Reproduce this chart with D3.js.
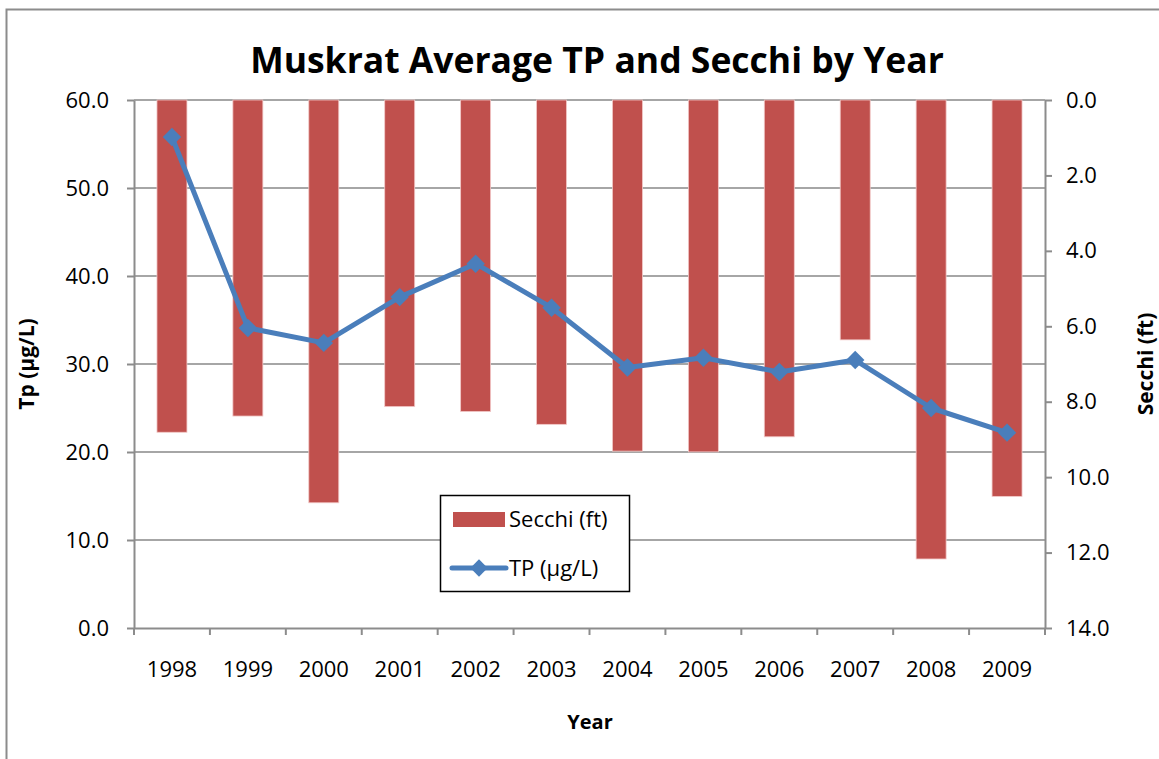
<!DOCTYPE html>
<html lang="en">
<head>
  <meta charset="UTF-8">
  <title>Muskrat Average TP and Secchi by Year</title>
  <script src="https://d3js.org/d3.v7.min.js"></script>
  <style>
    body {
      margin: 0;
      padding: 0;
      background: #fff;
      font-family: "Open Sans", "Liberation Sans", sans-serif;
    }
    .grid line { stroke: #a6a6a6; stroke-width: 2px; }
    .axis path, .axis line { stroke: #8c8c8c; stroke-width: 2px; }
    .axis text { font-size: 22px; fill: #000; font-family: "Open Sans", sans-serif; }
    .label { font-size: 20px; font-weight: bold; }
  </style>
</head>
<body>
  <svg id="chart" width="1159" height="759"></svg>

  <script>
    const years = ["1998", "1999", "2000", "2001", "2002", "2003", "2004", "2005", "2006", "2007", "2008", "2009"];
    const secchi = [8.81, 8.38, 10.68, 8.13, 8.26, 8.60, 9.31, 9.33, 8.93, 6.36, 12.17, 10.51];
    const tp = [55.8, 34.1, 32.4, 37.6, 41.4, 36.4, 29.6, 30.7, 29.1, 30.45, 25.0, 22.2];
    const tpTicks = [0, 10, 20, 30, 40, 50, 60];
    const secchiTicks = [0, 2, 4, 6, 8, 10, 12, 14];

    const margin = { top: 100, right: 114, bottom: 131, left: 134 };
    const width = 1159 - margin.left - margin.right;
    const height = 759 - margin.top - margin.bottom;

    const svg = d3.select("#chart");

    // outer chart border
    svg.append("rect")
      .attr("x", 6.5).attr("y", 9.5)
      .attr("width", 1170).attr("height", 780)
      .attr("fill", "none")
      .attr("stroke", "#8c8c8c")
      .attr("stroke-width", 2);

    const g = svg.append("g")
      .attr("transform", "translate(" + margin.left + "," + margin.top + ")");

    const x = d3.scaleBand().domain(years).range([0, width]).paddingInner(0).paddingOuter(0);
    const yLeft = d3.scaleLinear().domain([0, 60]).range([height, 0]);
    const yRight = d3.scaleLinear().domain([0, 14]).range([0, height]);

    // horizontal gridlines
    g.append("g").attr("class", "grid")
      .selectAll("line")
      .data(tpTicks.slice(1))
      .enter().append("line")
      .attr("x1", 0).attr("x2", width)
      .attr("y1", d => yLeft(d)).attr("y2", d => yLeft(d));

    // bars hanging from the top (inverted Secchi axis)
    const barW = x.bandwidth() * 0.395;
    g.selectAll(".bar")
      .data(years)
      .enter().append("rect")
      .attr("class", "bar")
      .attr("x", d => x(d) + (x.bandwidth() - barW) / 2)
      .attr("y", yRight(0))
      .attr("width", barW)
      .attr("height", (d, i) => yRight(secchi[i]) - yRight(0))
      .attr("fill", "#c0504d")
      .attr("stroke", "#f2c9c8")
      .attr("stroke-width", 0.8);

    // axes
    g.append("g").attr("class", "axis")
      .call(d3.axisLeft(yLeft).tickValues(tpTicks).tickFormat(d3.format(".1f")).tickSize(7).tickSizeOuter(0).tickPadding(18));

    g.append("g").attr("class", "axis")
      .attr("transform", "translate(" + width + ",0)")
      .call(d3.axisRight(yRight).tickValues(secchiTicks).tickFormat(d3.format(".1f")).tickSize(7).tickSizeOuter(0).tickPadding(14));

    const bottomAxis = g.append("g").attr("class", "axis")
      .attr("transform", "translate(0," + height + ")")
      .call(d3.axisBottom(x).tickSize(0).tickPadding(33));

    // category boundary ticks on the x axis
    const bounds = years.map(d => x(d)).concat([width]);
    bottomAxis.selectAll(".bound")
      .data(bounds)
      .enter().append("line")
      .attr("class", "bound")
      .attr("x1", d => d).attr("x2", d => d)
      .attr("y1", 0).attr("y2", 7);

    // TP line
    const line = d3.line()
      .x((d, i) => x(years[i]) + x.bandwidth() / 2)
      .y(d => yLeft(d));

    g.append("path")
      .datum(tp)
      .attr("fill", "none")
      .attr("stroke", "#4a7ebb")
      .attr("stroke-width", 5)
      .attr("stroke-linejoin", "round")
      .attr("d", line);

    g.selectAll(".marker")
      .data(tp)
      .enter().append("path")
      .attr("class", "marker")
      .attr("transform", (d, i) => "translate(" + (x(years[i]) + x.bandwidth() / 2) + "," + yLeft(d) + ") rotate(45)")
      .attr("d", d3.symbol().type(d3.symbolSquare).size(170))
      .attr("fill", "#4a7ebb");

    // title and axis titles
    svg.append("text")
      .attr("x", 597).attr("y", 73)
      .attr("text-anchor", "middle")
      .style("font-size", "35.5px")
      .style("font-weight", "bold")
      .text("Muskrat Average TP and Secchi by Year");

    svg.append("text")
      .attr("class", "label")
      .attr("x", 590).attr("y", 729)
      .attr("text-anchor", "middle")
      .text("Year");

    svg.append("text")
      .attr("class", "label")
      .style("font-size", "21px")
      .attr("transform", "translate(34,364) rotate(-90)")
      .attr("text-anchor", "middle")
      .text("Tp (µg/L)");

    svg.append("text")
      .attr("class", "label")
      .style("font-size", "21px")
      .attr("transform", "translate(1153,364) rotate(-90)")
      .attr("text-anchor", "middle")
      .text("Secchi (ft)");

    // legend
    const legend = svg.append("g").attr("transform", "translate(440,495)");
    legend.append("rect")
      .attr("x", 0.5).attr("y", 0.5)
      .attr("width", 189).attr("height", 96)
      .attr("fill", "#fff")
      .attr("stroke", "#000")
      .attr("stroke-width", 1.5);
    legend.append("rect")
      .attr("x", 13).attr("y", 17)
      .attr("width", 52).attr("height", 15)
      .attr("fill", "#c0504d");
    legend.append("text")
      .attr("x", 69).attr("y", 32)
      .style("font-size", "22px")
      .text("Secchi (ft)");
    legend.append("line")
      .attr("x1", 12).attr("x2", 66)
      .attr("y1", 73).attr("y2", 73)
      .attr("stroke", "#4a7ebb")
      .attr("stroke-width", 5)
      .attr("stroke-linecap", "round");
    legend.append("path")
      .attr("transform", "translate(39,73) rotate(45)")
      .attr("d", d3.symbol().type(d3.symbolSquare).size(150))
      .attr("fill", "#4a7ebb");
    legend.append("text")
      .attr("x", 69).attr("y", 81)
      .style("font-size", "22px")
      .text("TP (µg/L)");
  </script>
</body>
</html>
